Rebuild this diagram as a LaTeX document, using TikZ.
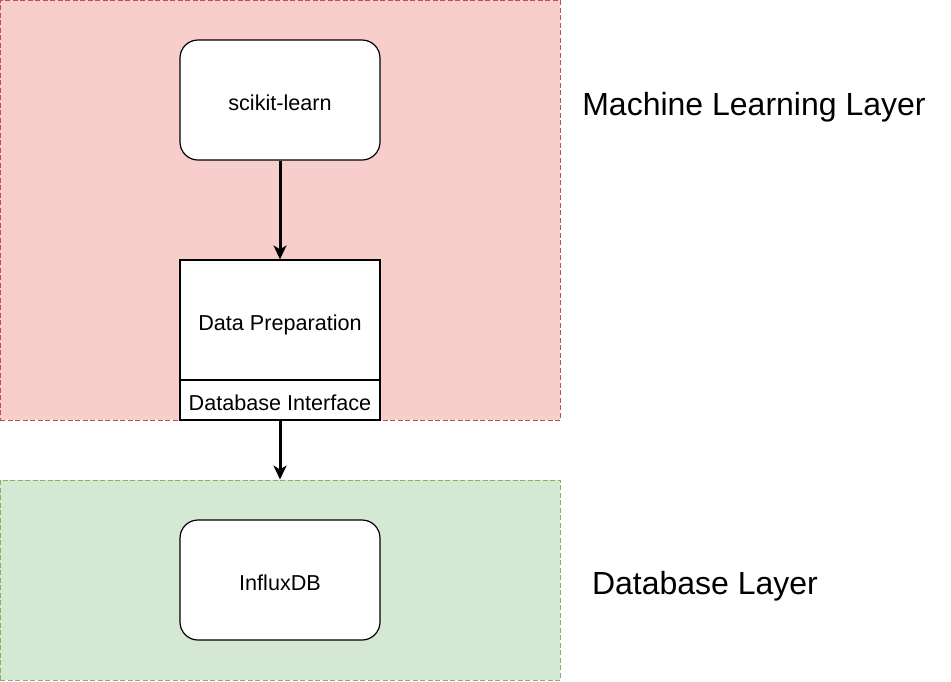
\documentclass[tikz,border=0pt]{standalone}
\usepackage{fontspec}
\setmainfont{Liberation Sans}
\usetikzlibrary{arrows.meta,positioning}
\definecolor{mlfill}{HTML}{F8CECC}
\definecolor{mlline}{HTML}{B85450}
\definecolor{dbfill}{HTML}{D5E8D4}
\definecolor{dbline}{HTML}{82B366}
\tikzset{
  layer/.style={draw, dash pattern=on 5pt off 2.5pt, line width=0.9pt, inner sep=0pt, minimum width=560pt},
  roundbox/.style={draw=black, fill=white, line width=1.2pt, rounded corners=18pt, minimum width=200pt, minimum height=120pt, inner sep=0pt, text height=21pt, text depth=0pt, font=\fontsize{21.6pt}{26pt}\selectfont},
  sqbox/.style={draw=black, fill=white, line width=1.2pt, minimum width=200pt, inner sep=0pt, text height=21pt, text depth=0pt, font=\fontsize{21.6pt}{26pt}\selectfont},
  heading/.style={font=\fontsize{32pt}{38pt}\selectfont, inner sep=0pt},
  flow/.style={line width=3pt, -{Stealth[length=14pt,width=13pt,inset=4pt]}}
}
\begin{document}
\begin{tikzpicture}[x=1pt,y=-1pt]
\useasboundingbox (0,0) rectangle (951,681);
\node[layer, fill=mlfill, draw=mlline, minimum height=420pt] (ml) at (280,210) {};
\node[layer, fill=dbfill, draw=dbline, minimum height=200pt] (db) at (280,580) {};
\node[roundbox] (sk) at (280,100) {scikit-learn};
\node[sqbox, minimum height=120pt] (prep) at (280,320) {Data Preparation};
\node[sqbox, minimum height=40pt] (iface) at (280,400) {Database Interface};
\node[roundbox] (influx) at (280,580) {InfluxDB};
\node[heading] (mlh) at (754,107) {Machine Learning Layer};
\node[heading] (dbh) at (705,586) {Database Layer};
\draw[flow] (sk.south) -- (prep.north);
\draw[flow] (iface.south) -- (db.north);
\end{tikzpicture}
\end{document}
